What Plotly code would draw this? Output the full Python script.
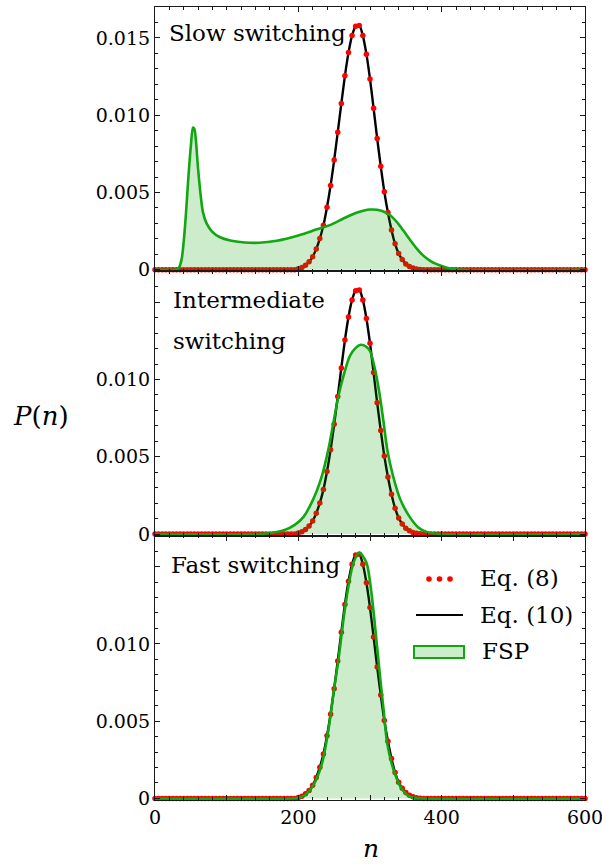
import plotly.graph_objects as go
from plotly.subplots import make_subplots

# ---------------------------------------------------------------------------
# Data (probabilities given in units of 1e-3)
# ---------------------------------------------------------------------------

# Eq. (8) / Eq. (10): analytic distribution sampled every 5 molecules
n_grid = list(range(0, 605, 5))
p_analytic_core = [0.07, 0.15, 0.30, 0.52, 0.85, 1.35, 2.02, 2.88, 4.05, 5.45,
                   7.10, 8.90, 10.75, 12.55, 14.05, 15.15, 15.75, 15.80, 15.15, 13.95,
                   12.35, 10.45, 8.50, 6.70, 5.05, 3.70, 2.58, 1.68, 1.05, 0.66,
                   0.38, 0.21, 0.11, 0.05, 0.02]          # n = 200 ... 370
p_analytic = [0.0] * 40 + p_analytic_core + [0.0] * 46  # zero outside 200..370

# FSP solutions for the three switching regimes
fsp_slow_n = [0, 25, 30, 33, 37, 40, 43, 46, 50, 53, 55, 57, 60, 64, 67, 72, 80, 90,
              105, 125, 145, 170, 200, 225, 244, 263, 281, 300, 316, 328, 337, 346,
              356, 365, 374, 384, 393, 402, 416, 430, 600]
fsp_slow_p = [0, 0, 0.02, 0.1, 0.64, 1.8, 3.5, 5.6, 8.0, 9.2, 9.1, 8.4, 6.6, 4.7, 3.7,
              3.0, 2.45, 2.12, 1.89, 1.77, 1.75, 1.88, 2.22, 2.6, 2.89, 3.32, 3.69,
              3.90, 3.82, 3.53, 3.11, 2.57, 1.93, 1.39, 0.93, 0.58, 0.37, 0.22, 0.05,
              0.0, 0.0]

fsp_mid_n = [0, 140, 160, 180, 195, 207, 221, 233, 242, 249, 256, 263, 272, 280, 287,
             294, 300, 307, 313, 319, 324, 332, 342, 354, 367, 380, 395, 600]
fsp_mid_p = [0, 0, 0.06, 0.25, 0.6, 1.10, 2.28, 3.79, 5.5, 7.23, 8.95, 10.24, 11.53,
             12.05, 12.25, 12.15, 11.85, 10.66, 9.16, 7.23, 5.5, 3.79, 2.28, 1.21,
             0.45, 0.12, 0.02, 0]

fsp_fast_n = [0, 190, 200, 209, 221, 233, 242, 249, 256, 263, 270, 277, 285, 295, 302,
              308, 314, 319, 324, 333, 344, 356, 370, 600]
fsp_fast_p = [0, 0, 0.05, 0.21, 0.86, 2.27, 4.44, 6.82, 8.98, 11.58, 13.75, 15.26,
              15.91, 15.26, 13.31, 10.71, 7.9, 5.73, 3.57, 1.84, 0.65, 0.11, 0.01, 0]

fsp_n = [fsp_slow_n, fsp_mid_n, fsp_fast_n]
fsp_p = [fsp_slow_p, fsp_mid_p, fsp_fast_p]

y_tickvals = [0, 0.005, 0.010, 0.015]
y_ticktext_top = ["0", "0.005", "0.010", "0.015"]
y_ticktext_low = ["0", "0.005", "0.010", ""]
x_tickvals = [0, 100, 200, 300, 400, 500, 600]
x_ticktext = ["0", "", "200", "", "400", "", "600"]

# ---------------------------------------------------------------------------
FONT = "DejaVu Serif"
INK = "#1a1a1a"
RED = "#ff0000"
GREEN = "#12a612"
GREEN_FILL = "rgba(0,160,0,0.2)"

W, H = 602, 864
ML, MR, MT, MB = 155, 17, 7, 64
PW, PH = W - ML - MR, H - MT - MB


def px(x):
    return (x - ML) / PW


def py(y):
    return (H - MB - y) / PH


def milli(vals):
    return [v * 1e-3 for v in vals]


fig = make_subplots(rows=3, cols=1, shared_xaxes=True, vertical_spacing=0)

for r in range(3):
    row = r + 1
    # Eq. (10): continuous curve
    fig.add_trace(go.Scatter(x=n_grid, y=milli(p_analytic), mode="lines",
                             line=dict(color="black", width=2.4, shape="spline",
                                       smoothing=0.8),
                             showlegend=False, hoverinfo="skip"), row=row, col=1)
    # Eq. (8): discrete points
    fig.add_trace(go.Scatter(x=n_grid, y=milli(p_analytic), mode="markers",
                             marker=dict(color=RED, size=5.5, line=dict(width=0)),
                             cliponaxis=False, showlegend=False, hoverinfo="skip"),
                  row=row, col=1)
    # FSP: filled curve drawn on top
    fig.add_trace(go.Scatter(x=fsp_n[r], y=milli(fsp_p[r]), mode="lines",
                             fill="tozeroy", fillcolor=GREEN_FILL,
                             line=dict(color=GREEN, width=2.6, shape="spline",
                                       smoothing=0.8),
                             showlegend=False, hoverinfo="skip"), row=row, col=1)

axis_common = dict(showgrid=False, zeroline=False, showline=True, linecolor=INK,
                   linewidth=1.2, mirror="ticks", ticks="inside", ticklen=5,
                   tickwidth=1, tickcolor=INK, automargin=False,
                   tickfont=dict(family=FONT, size=19, color="black"))

for r in range(3):
    row = r + 1
    fig.update_yaxes(range=[-0.0001, 0.017], tickmode="array", tickvals=y_tickvals,
                     ticktext=y_ticktext_top if r == 0 else y_ticktext_low,
                     minor=dict(ticks="inside", ticklen=2.5, tickwidth=1,
                                tickcolor=INK, tickmode="linear", tick0=0,
                                dtick=0.001, showgrid=False),
                     **axis_common, row=row, col=1)
    fig.update_xaxes(range=[0, 600], tickmode="array", tickvals=x_tickvals,
                     ticktext=x_ticktext, showticklabels=(r == 2),
                     ticklabeloverflow="allow",
                     minor=dict(ticks="inside", ticklen=2.5, tickwidth=1,
                                tickcolor=INK, tickmode="linear", tick0=0,
                                dtick=20, showgrid=False),
                     **axis_common, row=row, col=1)

text_font = dict(family=FONT, size=23, color="black")
annotations = [
    dict(text="Slow switching", x=px(167), y=py(33), xanchor="left", yanchor="middle"),
    dict(text="Intermediate", x=px(171), y=py(300), xanchor="left", yanchor="middle"),
    dict(text="switching", x=px(171), y=py(341), xanchor="left", yanchor="middle"),
    dict(text="Fast switching", x=px(169), y=py(565), xanchor="left", yanchor="middle"),
    dict(text="Eq. (8)", x=px(478), y=py(578), xanchor="left", yanchor="middle"),
    dict(text="Eq. (10)", x=px(478), y=py(615), xanchor="left", yanchor="middle"),
    dict(text="FSP", x=px(480), y=py(651), xanchor="left", yanchor="middle"),
    dict(text="<i>P</i>(<i>n</i>)", x=px(41), y=py(416), xanchor="center",
         yanchor="middle", font=dict(family=FONT, size=26, color="black")),
    dict(text="<i>n</i>", x=px(371), y=py(848), xanchor="center", yanchor="middle",
         font=dict(family=FONT, size=25, color="black")),
]
for a in annotations:
    a.setdefault("font", text_font)
    a.update(xref="paper", yref="paper", showarrow=False)

# Hand-drawn legend keys
shapes = []
for cx in (429, 439.5, 450):
    shapes.append(dict(type="circle", xref="paper", yref="paper",
                       xsizemode="pixel", ysizemode="pixel",
                       xanchor=px(cx), yanchor=py(579),
                       x0=-2.8, x1=2.8, y0=-2.8, y1=2.8,
                       fillcolor=RED, line=dict(width=0)))
shapes.append(dict(type="line", xref="paper", yref="paper",
                   x0=px(416), x1=px(463), y0=py(615), y1=py(615),
                   line=dict(color="black", width=2)))
shapes.append(dict(type="rect", xref="paper", yref="paper",
                   x0=px(414), x1=px(464), y0=py(646), y1=py(658),
                   fillcolor=GREEN_FILL, line=dict(color=GREEN, width=2)))

fig.update_layout(
    width=W, height=H,
    margin=dict(l=ML, r=MR, t=MT, b=MB, autoexpand=False),
    paper_bgcolor="white", plot_bgcolor="white",
    showlegend=False,
    annotations=annotations,
    shapes=shapes,
    font=dict(family=FONT, size=19, color="black"),
)

fig.write_html("out.html")
